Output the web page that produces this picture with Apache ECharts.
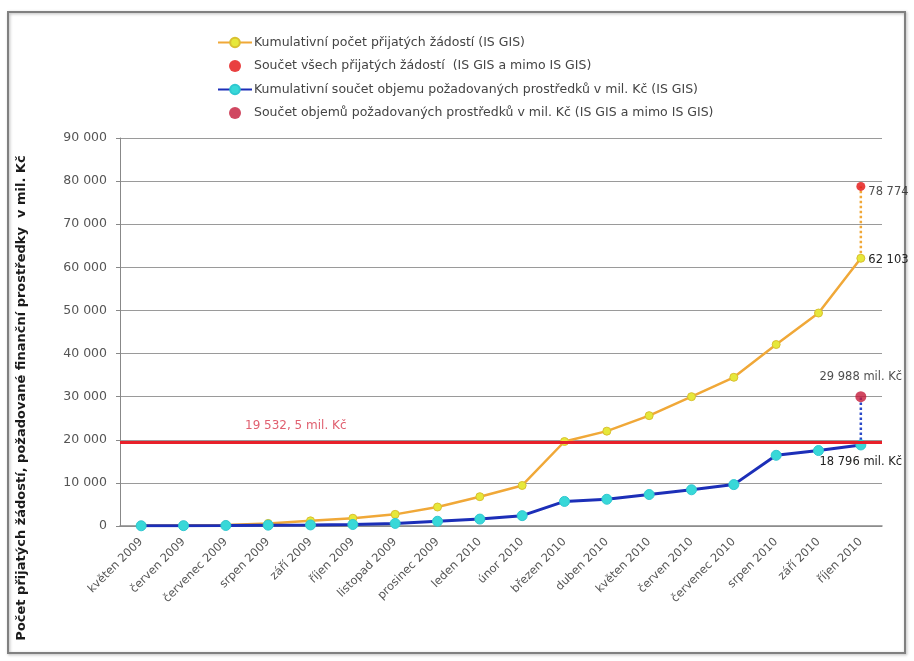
<!DOCTYPE html>
<html>
<head>
<meta charset="utf-8">
<script src="https://cdn.jsdelivr.net/npm/echarts@6/dist/echarts.min.js"></script>
<style>
html,body{margin:0;padding:0;background:#fff;}
#chart{width:914px;height:661px;}
</style>
</head>
<body>
<div id="chart"></div>
<script>
const categories = ['květen 2009','červen 2009','červenec 2009','srpen 2009','září 2009','říjen 2009','listopad 2009','prosinec 2009','leden 2010','únor 2010','březen 2010','duben 2010','květen 2010','červen 2010','červenec 2010','srpen 2010','září 2010','říjen 2010'];
const applications = [100, 150, 250, 600, 1200, 1800, 2700, 4400, 6800, 9400, 19600, 22000, 25600, 30000, 34500, 42100, 49400, 62103];
const funds = [50, 80, 120, 200, 250, 350, 600, 1100, 1600, 2400, 5700, 6200, 7300, 8400, 9600, 16400, 17500, 18796];
const totalApplications = 78774;
const totalFunds = 29988;
const threshold = 19532.5;
const seriesNames = [
  'Kumulativní počet přijatých žádostí (IS GIS)',
  'Součet všech přijatých žádostí  (IS GIS a mimo IS GIS)',
  'Kumulativní součet objemu požadovaných prostředků v mil. Kč (IS GIS)',
  'Součet objemů požadovaných prostředků v mil. Kč (IS GIS a mimo IS GIS)'
];
const yAxisTitle = 'Počet přijatých žádostí, požadované finanční prostředky  v mil. Kč';
const thresholdLabel = '19 532, 5 mil. Kč';

function fmt(v){ return String(v).replace(/\B(?=(\d{3})+(?!\d))/g, ' '); }
const last = categories.length - 1;
const font = 'DejaVu Sans, Verdana, sans-serif';

const appData = applications.map((v,i)=> i===last ? {value:v, label:{show:true, position:'right', distance:3, offset:[0,2], formatter:fmt(v), color:'#222', fontSize:11.5, fontFamily:font}} : v);
const fundData = funds.map((v,i)=> i===last ? {value:v, label:{show:true, position:'bottom', distance:6, formatter:fmt(v)+' mil. Kč', color:'#222', fontSize:11.5, fontFamily:font}} : v);
const totalAppData = categories.map((c,i)=> i===last ? totalApplications : null);
const totalFundData = categories.map((c,i)=> i===last ? totalFunds : null);

const chart = echarts.init(document.getElementById('chart'), null, {renderer:'canvas'});
chart.setOption({
  backgroundColor:'#ffffff',
  animation:false,
  graphic:[
    {type:'rect', shape:{x:8,y:12,width:897,height:641}, style:{fill:'none', stroke:'#808080', lineWidth:2, shadowBlur:3, shadowColor:'rgba(0,0,0,0.3)', shadowOffsetX:1, shadowOffsetY:1}, z:-1},
    {type:'text', x:22, y:398, rotation:Math.PI/2, style:{text:yAxisTitle, fill:'#1a1a1a', font:'bold 13px '+font, align:'center', verticalAlign:'middle'}}
  ],
  legend:{
    orient:'vertical', left:212, top:31, itemWidth:34, itemHeight:12, itemGap:10.5,
    data:seriesNames,
    textStyle:{color:'#444', fontSize:12.5, fontFamily:font, padding:[0,0,0,-3]}
  },
  grid:{left:120, right:32, top:138, bottom:135},
  xAxis:{
    type:'category', data:categories, boundaryGap:true,
    axisLine:{lineStyle:{color:'#888', width:1.5}},
    axisTick:{show:false},
    axisLabel:{rotate:45, color:'#555', fontSize:11.5, fontFamily:font, margin:14, interval:0}
  },
  yAxis:{
    type:'value', min:0, max:90000, interval:10000,
    axisLine:{show:true, lineStyle:{color:'#888'}},
    axisTick:{show:true, length:4, lineStyle:{color:'#888'}},
    axisLabel:{color:'#555', fontSize:12.5, fontFamily:font, margin:13, formatter:fmt},
    splitLine:{lineStyle:{color:'#9a9a9a', width:1}}
  },
  series:[
    {
      name:seriesNames[0], type:'line', data:appData, symbol:'circle', symbolSize:8,
      lineStyle:{color:'#F0A838', width:2.5}, itemStyle:{color:'#E6E83A', borderColor:'#D9C030', borderWidth:1},
      z:3,
      markLine:{
        silent:true, symbol:'none',
        lineStyle:{color:'#E8202A', width:3, type:'solid'},
        label:{show:true, position:'insideStartTop', distance:[125,10], formatter:thresholdLabel, color:'#E06070', fontSize:12, fontFamily:font},
        data:[{yAxis:threshold}]
      }
    },
    {
      name:seriesNames[1], type:'scatter', data:totalAppData, symbol:'circle', symbolSize:9,
      itemStyle:{color:'#E41010'}, z:5,
      label:{show:true, position:'right', distance:3, offset:[0,6], formatter:p=>fmt(p.value), color:'#222', fontSize:11.5, fontFamily:font}
    },
    {
      name:seriesNames[2], type:'line', data:fundData, symbol:'circle', symbolSize:10,
      lineStyle:{color:'#1C2FB8', width:3}, itemStyle:{color:'#38D8D8', borderColor:'#30C8D0', borderWidth:1},
      z:4
    },
    {
      name:seriesNames[3], type:'scatter', data:totalFundData, symbol:'circle', symbolSize:11,
      itemStyle:{color:'#C41A3A'}, z:5,
      label:{show:true, position:'top', distance:8, formatter:p=>fmt(p.value)+' mil. Kč', color:'#222', fontSize:11.5, fontFamily:font}
    },
    {
      name:'conn1', type:'line', data:[[last, applications[last]],[last, totalApplications]], symbol:'none',
      lineStyle:{color:'#F0A838', width:2.5, type:'dotted'}, z:2, silent:true
    },
    {
      name:'conn2', type:'line', data:[[last, funds[last]],[last, totalFunds]], symbol:'none',
      lineStyle:{color:'#2A48C8', width:2.5, type:'dotted'}, z:2, silent:true
    }
  ]
});
</script>
</body>
</html>
